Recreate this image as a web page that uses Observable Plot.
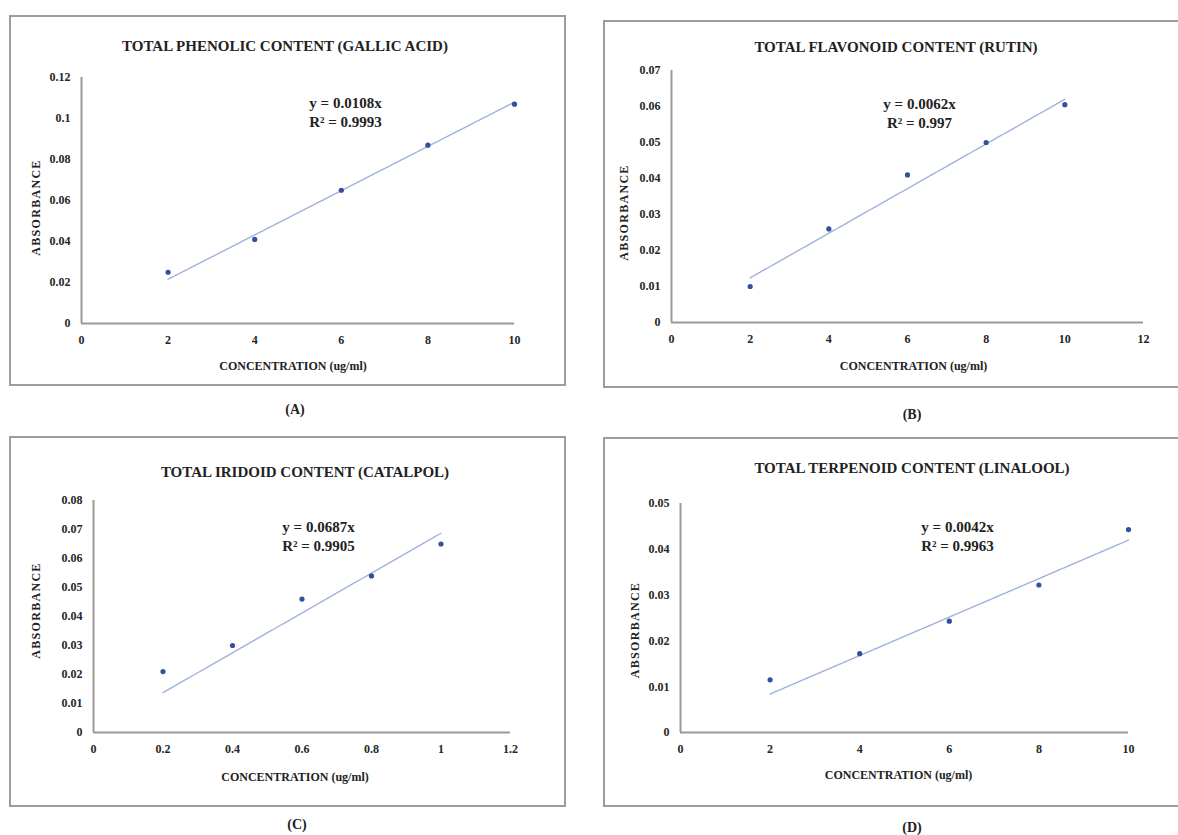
<!DOCTYPE html>
<html>
<head>
<meta charset="utf-8">
<script src="https://cdn.jsdelivr.net/npm/d3@7"></script>
<script src="https://cdn.jsdelivr.net/npm/@observablehq/plot@0.6"></script>
<style>
  html, body { margin: 0; padding: 0; background: #fff; overflow: hidden; }
  #page { position: relative; width: 1178px; height: 835px; overflow: hidden; background: #fff; }
  .lbl { position: absolute; font-family: "Liberation Serif", "Times New Roman", serif; font-weight: bold; color: #222; text-align: center; white-space: nowrap; }
  .box { position: absolute; border: 2px solid #9c9c9c; box-sizing: border-box; pointer-events: none; }
</style>
</head>
<body>
<div id="page"></div>
<script>
// ---------- data ----------
const titles = [
  "TOTAL PHENOLIC CONTENT (GALLIC ACID)",
  "TOTAL FLAVONOID CONTENT (RUTIN)",
  "TOTAL IRIDOID CONTENT (CATALPOL)",
  "TOTAL TERPENOID CONTENT (LINALOOL)"
];
const captions = ["(A)", "(B)", "(C)", "(D)"];
const xLabel = "CONCENTRATION (ug/ml)";
const yLabel = "ABSORBANCE";

const concA = [2, 4, 6, 8, 10];
const absA  = [0.025, 0.041, 0.065, 0.087, 0.107];
const concB = [2, 4, 6, 8, 10];
const absB  = [0.010, 0.026, 0.041, 0.050, 0.0605];
const concC = [0.2, 0.4, 0.6, 0.8, 1];
const absC  = [0.021, 0.030, 0.046, 0.054, 0.065];
const concD = [2, 4, 6, 8, 10];
const absD  = [0.0115, 0.0172, 0.0243, 0.0322, 0.0443];

const slopes = [0.0108, 0.0062, 0.0687, 0.0042];
const slopeLabels = ["0.0108", "0.0062", "0.0687", "0.0042"];
const r2Labels = ["0.9993", "0.997", "0.9905", "0.9963"];

const xTicksA = [0, 2, 4, 6, 8, 10];
const xTicksB = [0, 2, 4, 6, 8, 10, 12];
const xTicksC = [0, 0.2, 0.4, 0.6, 0.8, 1, 1.2];
const xTicksD = [0, 2, 4, 6, 8, 10];
const yTicksA = [0, 0.02, 0.04, 0.06, 0.08, 0.1, 0.12];
const yTicksB = [0, 0.01, 0.02, 0.03, 0.04, 0.05, 0.06, 0.07];
const yTicksC = [0, 0.01, 0.02, 0.03, 0.04, 0.05, 0.06, 0.07, 0.08];
const yTicksD = [0, 0.01, 0.02, 0.03, 0.04, 0.05];

// ---------- layout (page pixels) ----------
const layout = [
  {box: [9, 15, 557, 371],  m: [62, 52, 63, 72], eq: [264, 34], yl: [-45, 7],  xl: [-5, 46], title: [285, 46],  cap: [295, 410]},
  {box: [603, 20, 577, 368], m: [50, 37, 66, 68], eq: [248, 42], yl: [-47, 16], xl: [6, 47],  title: [896, 47],  cap: [912, 415]},
  {box: [9, 436, 557, 371], m: [64, 56, 75, 84], eq: [225, 35], yl: [-57, -6], xl: [-7, 48], title: [305, 472], cap: [297, 825]},
  {box: [603, 437, 577, 370], m: [66, 52, 75, 77], eq: [277, 32], yl: [-45, 12], xl: [-6, 46], title: [912, 468], cap: [912, 828]}
];

const series = [
  {x: concA, y: absA, xt: xTicksA, yt: yTicksA},
  {x: concB, y: absB, xt: xTicksB, yt: yTicksB},
  {x: concC, y: absC, xt: xTicksC, yt: yTicksC},
  {x: concD, y: absD, xt: xTicksD, yt: yTicksD}
];

const page = document.getElementById("page");
const FONT = "'Liberation Serif', 'Times New Roman', serif";

function addLabel(text, cx, cy, size) {
  const d = document.createElement("div");
  d.className = "lbl";
  d.textContent = text;
  d.style.fontSize = size + "px";
  d.style.lineHeight = size + "px";
  d.style.width = "600px";
  d.style.left = (cx - 300) + "px";
  d.style.top = (cy - size / 2) + "px";
  page.appendChild(d);
}

series.forEach((s, i) => {
  const L = layout[i];
  const [left, top, w, h] = L.box;
  const [mt, mr, mb, ml] = L.m;
  const pts = s.x.map((x, j) => ({x, y: s.y[j]}));
  const n = s.x.length - 1;
  const trend = [s.x[0], s.x[n]].map(x => ({x, y: slopes[i] * x}));
  const eqText = "y = " + slopeLabels[i] + "x\nR² = " + r2Labels[i];

  const svg = Plot.plot({
    width: w, height: h,
    marginTop: mt, marginRight: mr, marginBottom: mb, marginLeft: ml,
    x: {domain: [s.xt[0], s.xt[s.xt.length - 1]], ticks: s.xt, tickFormat: d => String(d), tickSize: 0, tickPadding: 12, label: null},
    y: {domain: [s.yt[0], s.yt[s.yt.length - 1]], ticks: s.yt, tickFormat: d => String(d), tickSize: 0, tickPadding: 11, label: null},
    style: {fontFamily: FONT, fontWeight: "bold", fontSize: "12px", color: "#262626", background: "transparent", overflow: "visible"},
    marks: [
      Plot.ruleY([0], {stroke: "#9a9a9a", strokeWidth: 2}),
      Plot.ruleX([0], {stroke: "#9a9a9a", strokeWidth: 2}),
      Plot.line(trend, {x: "x", y: "y", stroke: "#9fb1da", strokeWidth: 1.4, strokeDasharray: "3,1"}),
      Plot.dot(pts, {x: "x", y: "y", r: 2.6, fill: "#33509f", stroke: "none"}),
      Plot.text([eqText], {frameAnchor: "top-left", dx: L.eq[0], dy: L.eq[1], textAnchor: "middle", lineAnchor: "middle", lineHeight: 1.25, fontSize: 15, fontWeight: "bold", fill: "#222"}),
      Plot.text([yLabel], {frameAnchor: "left", dx: L.yl[0], dy: L.yl[1], rotate: -90, textAnchor: "middle", fontSize: 12, fontWeight: "bold", fill: "#222"}),
      Plot.text([xLabel], {frameAnchor: "bottom", dx: L.xl[0], dy: L.xl[1], textAnchor: "middle", fontSize: 12, fontWeight: "bold", fill: "#222"})
    ]
  });
  svg.style.position = "absolute";
  svg.style.left = left + "px";
  svg.style.top = top + "px";
  svg.style.maxWidth = "none";
  svg.querySelectorAll("text").forEach(t => {
    if (t.textContent === yLabel) t.setAttribute("letter-spacing", "1.3");
  });
  page.appendChild(svg);

  const b = document.createElement("div");
  b.className = "box";
  b.style.left = left + "px";
  b.style.top = top + "px";
  b.style.width = w + "px";
  b.style.height = h + "px";
  page.appendChild(b);

  addLabel(titles[i], L.title[0], L.title[1], 15);
  addLabel(captions[i], L.cap[0], L.cap[1], 14);
});
</script>
</body>
</html>
